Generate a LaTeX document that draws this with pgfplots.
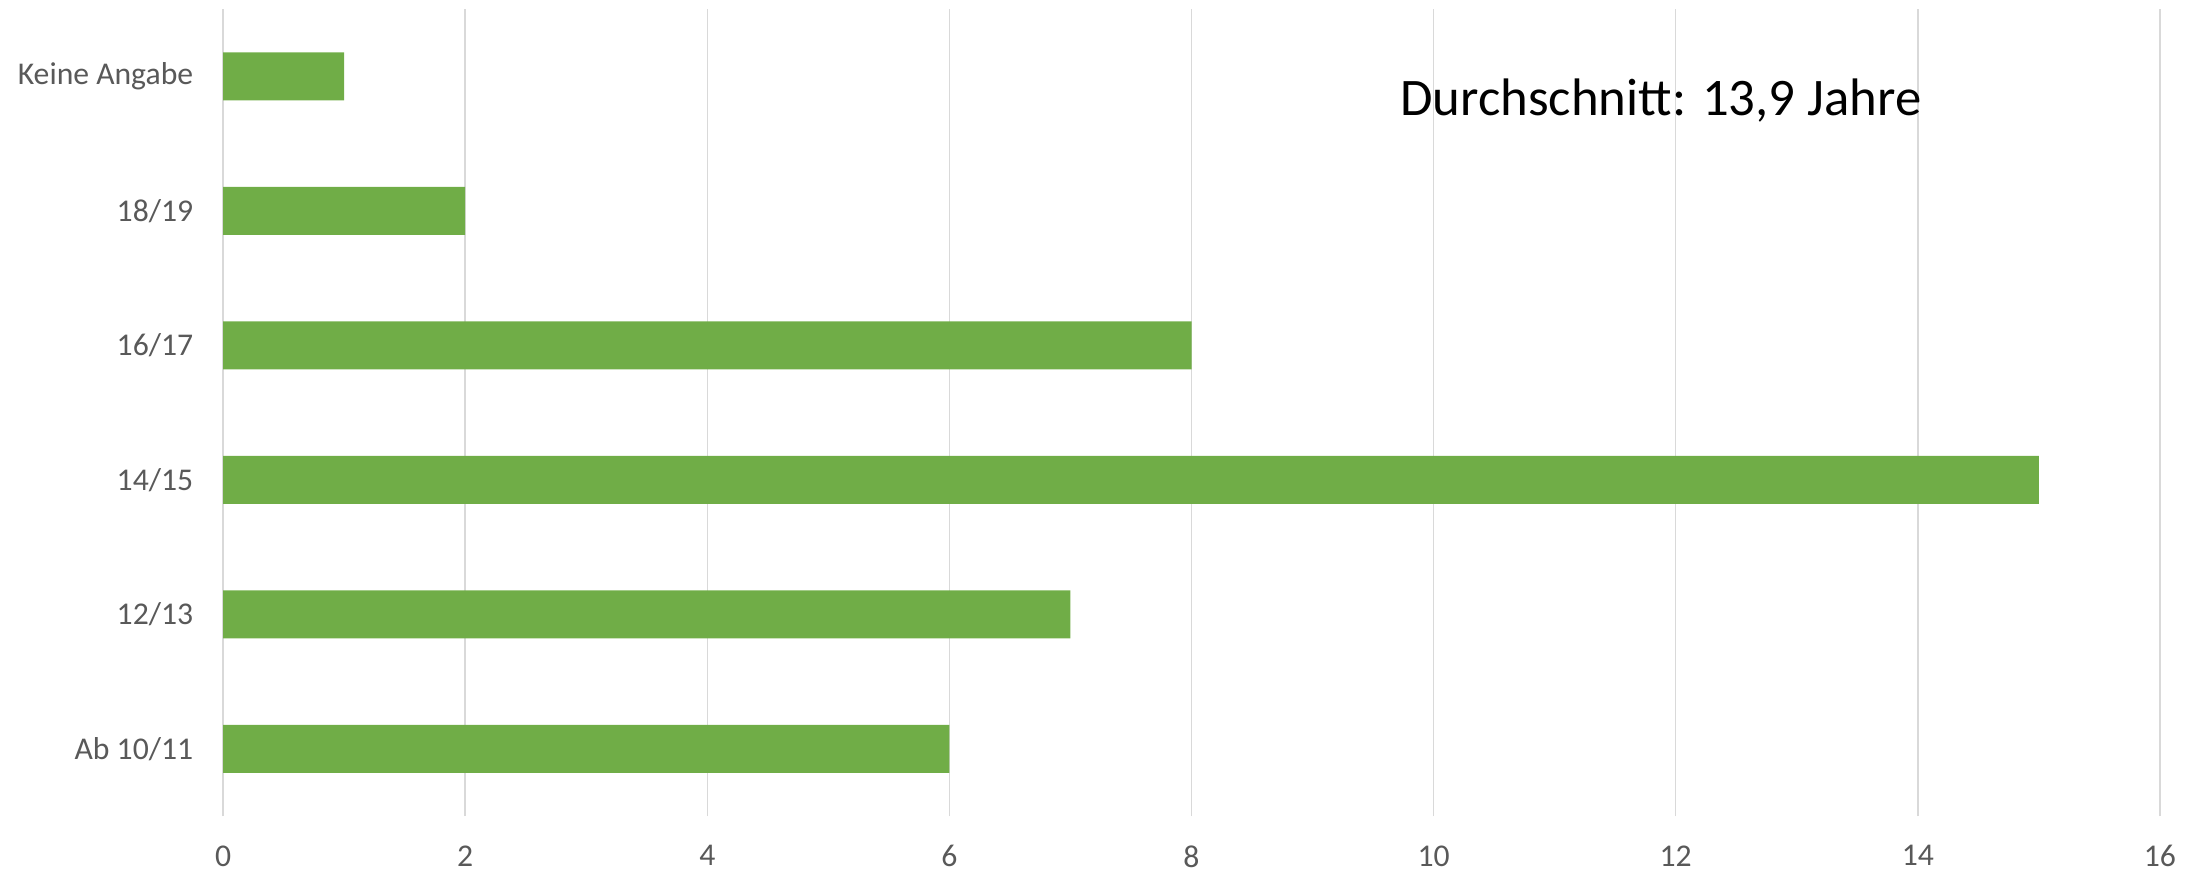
\documentclass[border=0pt]{standalone}
\usepackage{fontspec}
\setmainfont{Carlito}
\usepackage{pgfplots}
\pgfplotsset{compat=1.18}
\definecolor{bargreen}{HTML}{70AD47}
\definecolor{gridgray}{HTML}{D9D9D9}
\definecolor{labelgray}{HTML}{595959}
\begin{document}
\begin{tikzpicture}
\begin{axis}[
  at={(0,0)}, anchor=south west,
  scale only axis,
  width=697.3pt, height=290.5pt,
  xbar, bar width=17.3pt,
  xmin=0, xmax=16,
  ymin=-0.5, ymax=5.5,
  xtick={0,2,...,16},
  ytick={0,...,5},
  yticklabels={Ab 10/11,12/13,14/15,16/17,18/19,Keine Angabe},
  xmajorgrids,
  major grid style={gridgray, line width=0.5pt},
  axis line style={draw=none},
  tick style={draw=none},
  /pgf/number format/assume math mode=true,
  tick label style={font=\fontsize{11.4}{13}\selectfont, text=labelgray},
  yticklabel style={inner sep=0pt, anchor=east, xshift=-6.3pt},
  xticklabel style={inner sep=0pt, anchor=north, yshift=-10.4pt},
]
\addplot[fill=bargreen, draw=none] coordinates {
  (6,0) (7,1) (15,2) (8,3) (2,4) (1,5)
};
\node[anchor=west, inner sep=0pt, font=\fontsize{19}{23}\selectfont] at (axis cs:9.72,4.82) {Durchschnitt: 13,9 Jahre};
\end{axis}
\pgfresetboundingbox
\path (-80.3pt,-20.2pt) rectangle (712.8pt,293.8pt);
\end{tikzpicture}
\end{document}
